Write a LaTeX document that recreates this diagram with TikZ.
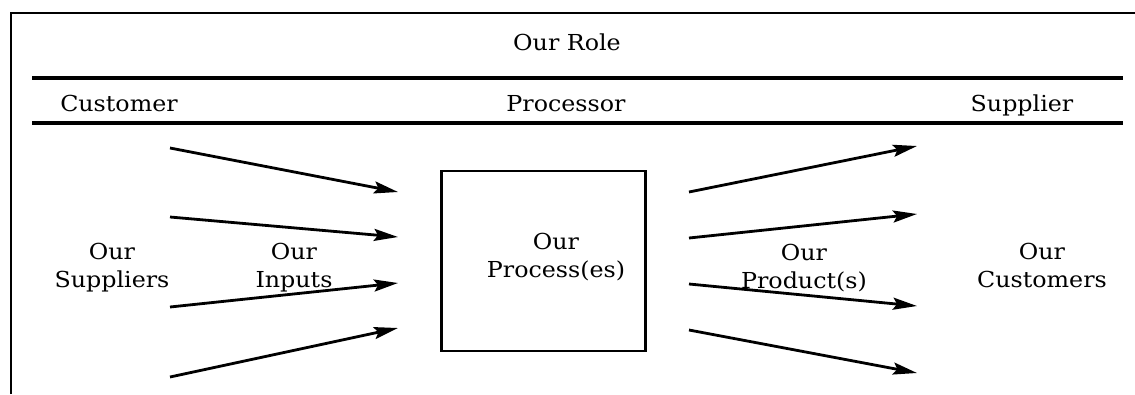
\documentclass[tikz,border=0pt]{standalone}
\usepackage{fontspec}
\setmainfont{DejaVu Serif}[FakeStretch=1.08]
\usetikzlibrary{arrows.meta}
\begin{document}
\begin{tikzpicture}[x=1pt,y=-1pt,
  lbl/.style={font=\fontsize{22}{28}\selectfont, align=center, inner sep=0pt},
  rule/.style={line width=4.5pt},
  frame/.style={line width=2pt},
  flow/.style={line width=2.8pt, -{Stealth[length=24pt,width=12pt,inset=4pt]}},
  procbox/.style={draw, line width=2.5pt, minimum width=204pt, minimum height=180pt, inner sep=0pt}]
\useasboundingbox (0,0) rectangle (1135,394);
% frame
\coordinate (fb) at (11,394);
\coordinate (fc) at (11,13);
\coordinate (fr) at (1135,13);
\draw[frame] (fb) -- (fc) -- (fr);
% rules
\coordinate (r1a) at (32,78);  \coordinate (r1b) at (1123,78);
\coordinate (r2a) at (32,123); \coordinate (r2b) at (1123,123);
\draw[rule] (r1a) -- (r1b);
\draw[rule] (r2a) -- (r2b);
% headings
\node[lbl] (role) at (567,42) {Our Role};
\node[lbl, anchor=base] (cust) at (119,111) {Customer};
\node[lbl, anchor=base] (proc) at (566,111) {Processor};
\node[lbl, anchor=base] (supp) at (1022,111) {Supplier};
% process box
\node[procbox] (box) at (543.5,261) {};
\node[lbl] (boxtxt) at (556,257) {Our\\Process(es)};
% side labels
\node[lbl] (suppliers) at (112,268) {Our\\Suppliers};
\node[lbl] (inputs) at (294,268) {Our\\Inputs};
\node[lbl] (products) at (804,268) {Our\\Product(s)};
\node[lbl] (customers) at (1042,265) {Our\\Customers};
% input arrows
\coordinate (i1s) at (170,148); \coordinate (i1e) at (398,192);
\coordinate (i2s) at (170,217); \coordinate (i2e) at (398,237);
\coordinate (i3s) at (170,307); \coordinate (i3e) at (398,283);
\coordinate (i4s) at (170,377); \coordinate (i4e) at (398,328);
\draw[flow] (i1s) -- (i1e);
\draw[flow] (i2s) -- (i2e);
\draw[flow] (i3s) -- (i3e);
\draw[flow] (i4s) -- (i4e);
% output arrows
\coordinate (o1s) at (689,192); \coordinate (o1e) at (917,146);
\coordinate (o2s) at (689,238); \coordinate (o2e) at (917,214);
\coordinate (o3s) at (689,284); \coordinate (o3e) at (917,306);
\coordinate (o4s) at (689,330); \coordinate (o4e) at (917,373);
\draw[flow] (o1s) -- (o1e);
\draw[flow] (o2s) -- (o2e);
\draw[flow] (o3s) -- (o3e);
\draw[flow] (o4s) -- (o4e);
\end{tikzpicture}
\end{document}
